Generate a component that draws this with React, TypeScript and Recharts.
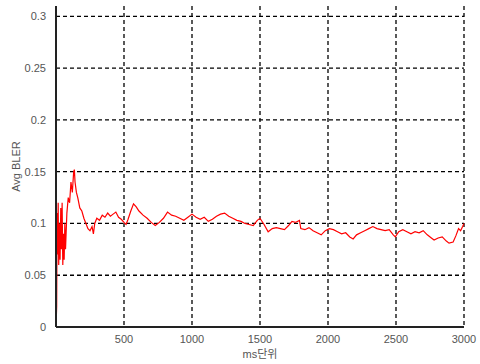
import { LineChart, Line, XAxis, YAxis, CartesianGrid } from 'recharts'

const timeMs = [
  0, 5, 8, 12, 16, 20, 25, 30, 35, 40, 45, 50, 55, 60, 65, 70, 80, 90, 100, 110,
  120, 130, 135, 140, 150, 160, 175, 190, 205, 220, 235, 250, 265, 275, 285, 300,
  320, 340, 360, 380, 400, 420, 440, 460, 480, 500, 515, 530, 550, 570, 590, 610,
  640, 670, 700, 730, 760, 790, 820, 850, 880, 910, 940, 970, 1000, 1030, 1060,
  1090, 1120, 1150, 1180, 1210, 1240, 1270, 1300, 1330, 1360, 1390, 1420, 1450,
  1480, 1500, 1530, 1560, 1590, 1620, 1650, 1680, 1710, 1735, 1760, 1790, 1800,
  1830, 1860, 1890, 1920, 1950, 1980, 2010, 2040, 2070, 2100, 2130, 2160, 2185,
  2210, 2240, 2270, 2300, 2330, 2360, 2390, 2420, 2450, 2480, 2495, 2520, 2550,
  2580, 2610, 2640, 2670, 2700, 2730, 2760, 2780, 2810, 2840, 2870, 2890, 2920,
  2940, 2960, 2975, 2990, 3000,
]

const avgBler = [
  0, 0.02, 0.11, 0.07, 0.12, 0.06, 0.1, 0.065, 0.115, 0.075, 0.12, 0.06, 0.09,
  0.065, 0.1, 0.075, 0.11, 0.125, 0.12, 0.14, 0.13, 0.15, 0.152, 0.14, 0.13,
  0.125, 0.115, 0.112, 0.105, 0.1, 0.095, 0.093, 0.097, 0.09, 0.1, 0.105, 0.103,
  0.108, 0.106, 0.11, 0.107, 0.109, 0.111, 0.106, 0.104, 0.101, 0.099, 0.104,
  0.112, 0.119, 0.116, 0.112, 0.108, 0.105, 0.101, 0.098, 0.101, 0.105, 0.111,
  0.108, 0.107, 0.105, 0.103, 0.106, 0.109, 0.106, 0.104, 0.106, 0.102, 0.104,
  0.107, 0.109, 0.11, 0.107, 0.105, 0.103, 0.102, 0.1, 0.099, 0.098, 0.103,
  0.105, 0.099, 0.092, 0.095, 0.096, 0.095, 0.094, 0.098, 0.102, 0.101, 0.103,
  0.095, 0.094, 0.096, 0.093, 0.091, 0.089, 0.093, 0.095, 0.094, 0.092, 0.09,
  0.091, 0.087, 0.085, 0.089, 0.091, 0.093, 0.095, 0.097, 0.095, 0.094, 0.093,
  0.094, 0.089, 0.087, 0.092, 0.094, 0.092, 0.09, 0.092, 0.091, 0.093, 0.089,
  0.086, 0.084, 0.086, 0.087, 0.083, 0.081, 0.082, 0.088, 0.095, 0.093, 0.097,
  0.1,
]

const xTicks = [500, 1000, 1500, 2000, 2500, 3000]
const yTicks = [0, 0.05, 0.1, 0.15, 0.2, 0.25, 0.3]

const data = timeMs.map((t, i) => ({ t, bler: avgBler[i] }))

const tickStyle = {
  fontFamily: '"Liberation Sans", Arial, sans-serif',
  fontSize: 11,
  fill: '#555',
}

export default function App() {
  return (
    <div style={{ position: 'absolute', left: 0, top: 0, background: '#fff' }}>
      <LineChart
        width={480}
        height={364}
        data={data}
        margin={{ top: 6, right: 16, bottom: 0, left: 0 }}
      >
        <CartesianGrid
          stroke="#000"
          strokeDasharray="4 3"
          strokeWidth={1.3}
          horizontalValues={yTicks}
          verticalValues={xTicks}
        />
        <XAxis
          dataKey="t"
          type="number"
          domain={[0, 3000]}
          ticks={xTicks}
          height={37}
          tickLine={false}
          axisLine={{ stroke: '#222', strokeWidth: 2 }}
          tick={tickStyle}
          tickMargin={2}
          label={{
            value: 'ms단위',
            position: 'insideBottom',
            offset: 6,
            style: {
              fontFamily: '"Liberation Sans", "Noto Sans CJK KR", sans-serif',
              fontSize: 11,
              fill: '#555',
            },
          }}
        />
        <YAxis
          type="number"
          domain={[0, 0.31]}
          ticks={yTicks}
          width={56}
          tickLine={false}
          axisLine={{ stroke: '#222', strokeWidth: 2 }}
          tick={tickStyle}
          tickMargin={4}
          label={{
            value: 'Avg BLER',
            angle: -90,
            position: 'insideLeft',
            offset: 16,
            style: { ...tickStyle, textAnchor: 'middle' },
          }}
        />
        <Line
          type="linear"
          dataKey="bler"
          stroke="#ff0000"
          strokeWidth={1.2}
          dot={false}
          isAnimationActive={false}
        />
      </LineChart>
    </div>
  )
}
